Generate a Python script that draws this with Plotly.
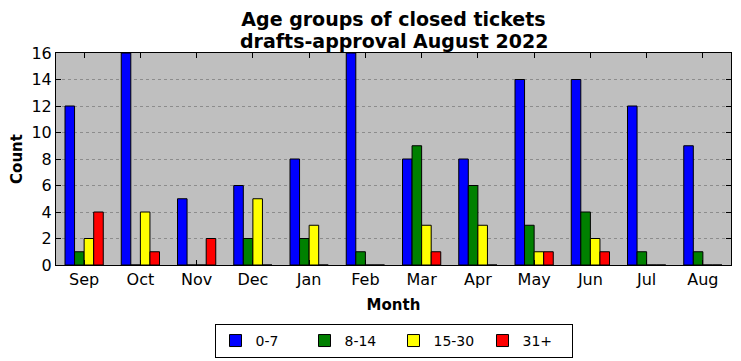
import plotly.graph_objects as go

months = ["Sep", "Oct", "Nov", "Dec", "Jan", "Feb", "Mar", "Apr", "May", "Jun", "Jul", "Aug"]
g0_7 = [12, 16, 5, 6, 8, 16, 8, 8, 14, 14, 12, 9]
g8_14 = [1, 0, 0, 2, 2, 1, 9, 6, 3, 4, 1, 1]
g15_30 = [2, 4, 0, 5, 3, 0, 3, 3, 1, 2, 0, 0]
g31p = [4, 1, 2, 0, 0, 0, 1, 0, 1, 1, 0, 0]

series = [("0-7", g0_7, "#0000ff"), ("8-14", g8_14, "#008000"),
          ("15-30", g15_30, "#ffff00"), ("31+", g31p, "#ff0000")]

fig = go.Figure()
for name, vals, col in series:
    fig.add_trace(go.Bar(x=months, y=vals, name=name,
                         marker=dict(color=col, line=dict(color="black", width=1))))

font = "DejaVu Sans"
W, H = 733, 353
fig.update_layout(
    width=W, height=H,
    margin=dict(l=48, r=10, t=45, b=96, autoexpand=False),
    paper_bgcolor="white", plot_bgcolor="#bfbfbf",
    barmode="group", bargap=0.32, bargroupgap=0,
    font=dict(family=font, color="black"),
    title=dict(text="<b>Age groups of closed tickets</b>",
               x=0.5, xref="paper", xanchor="center", y=1 - 11 / H, yref="container",
               yanchor="middle", font=dict(size=19, family=font), automargin=False),
    annotations=[dict(text="<b>drafts-approval August 2022</b>", xref="paper", yref="paper",
                      x=0.5, xanchor="center", y=1 + 12 / 212, yanchor="middle",
                      showarrow=False, font=dict(size=19, family=font))],
    legend=dict(orientation="h", x=0.5, xanchor="center", y=-0.278, yanchor="top",
                bordercolor="black", borderwidth=1, bgcolor="white", font=dict(size=14),
                entrywidth=44, entrywidthmode="pixels", traceorder="normal"),
    xaxis=dict(title=dict(text="<b>Month</b>", font=dict(size=15), standoff=11),
               tickfont=dict(size=16), ticks="inside", ticklen=5, tickcolor="black",
               showline=True, linecolor="black", linewidth=1, mirror="ticks",
               range=[-0.5, 11.5], showgrid=False, automargin=False),
    yaxis=dict(title=dict(text="<b>Count</b>", font=dict(size=15), standoff=6),
               tickfont=dict(size=16), ticks="inside", ticklen=5, tickcolor="black",
               showline=True, linecolor="black", linewidth=1, mirror="ticks",
               range=[0, 16], dtick=2, showgrid=True, gridcolor="#8c8c8c", griddash="dot",
               gridwidth=1, zeroline=False, automargin=False),
)
fig.write_html("out.html")
